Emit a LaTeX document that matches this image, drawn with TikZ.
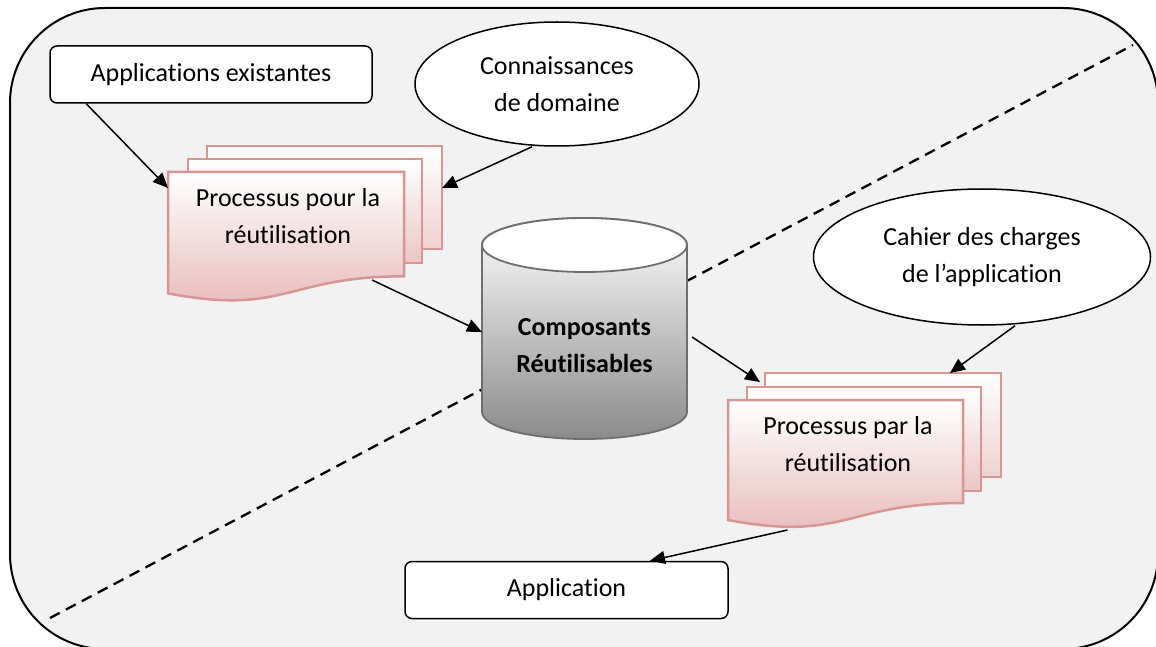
\documentclass[tikz,border=0pt]{standalone}
\usepackage{fontspec}
\setmainfont{Carlito}[Ligatures=NoCommon]
\usetikzlibrary{arrows.meta,shapes.geometric,calc}
\definecolor{bgc}{RGB}{242,242,242}
\definecolor{pinkb}{RGB}{217,149,148}
\definecolor{pinkf}{RGB}{229,184,183}
\definecolor{cylb}{RGB}{110,110,110}
\definecolor{cylf}{RGB}{138,138,138}
\newcommand\myfs{\fontsize{26}{37}\selectfont}
\begin{document}
\begin{tikzpicture}[x=1pt,y=-1pt,
  box/.style={draw, line width=1.5pt, fill=white, rounded corners=7pt, minimum width=#1, minimum height=57pt, inner sep=0pt, font=\myfs},
  ell/.style={ellipse, draw, line width=1.5pt, fill=white, inner sep=0pt, font=\myfs, align=center},
  lbl/.style={font=\myfs, align=center, inner sep=0pt},
  arr/.style={line width=1.5pt, -{Triangle[length=15pt,width=13pt]}},
  docline/.style={draw=pinkb, line width=2.5pt},
  frame/.style={inner sep=0pt, outer sep=0pt}
]
\useasboundingbox (0,0) rectangle (1156,647);
\fill[white] (0,0) rectangle (1156,647);
% outer frame
\draw[line width=2pt, fill=bgc, rounded corners=95pt] (10,8) rectangle (1158,649);
% dashed divider
\coordinate (d1) at (50,618);
\coordinate (d2) at (1133,45);
\draw[line width=2.3pt, dash pattern=on 11pt off 7pt] (d1) -- (d2);

% boxes
\node[box=322pt] (appex) at (211,74.5) {Applications existantes};
\node[box=323pt] (app) at (566.5,590) {Application};

% ellipses
\node[ell, minimum width=284pt, minimum height=124pt] (ell1) at (557,84) {Connaissances\\de domaine};
\node[ell, minimum width=337pt, minimum height=136pt] (ell2) at (982,257) {Cahier des charges\\de l’application};

% document stack 1
\path[docline, top color=white, bottom color=pinkf!65!white] (207,146) rectangle (442,249);
\path[docline, top color=white, bottom color=pinkf!80!white] (188,159) rectangle (422,263);
\path[docline, top color=white, bottom color=pinkf] (168,172) -- (404,172) -- (404,276.3)
   .. controls (286,276.3) and (286,315.9) .. (168,293.4) -- cycle;
\node[frame, minimum width=235pt, minimum height=103pt] (doc1c) at (324.5,197.5) {};
\node[frame, minimum width=236pt, minimum height=130pt] (doc1) at (286,237) {};
\node[lbl] (t1) at (288,216) {Processus pour la\\réutilisation};

% document stack 2
\path[docline, top color=white, bottom color=pinkf!65!white] (765,373) rectangle (1001,477);
\path[docline, top color=white, bottom color=pinkf!80!white] (747,387) rectangle (981,491);
\path[docline, top color=white, bottom color=pinkf] (728,400) -- (963,400) -- (963,503)
   .. controls (845.5,503) and (845.5,542.2) .. (728,520) -- cycle;
\node[frame, minimum width=236pt, minimum height=104pt] (doc2c) at (883,425) {};
\node[frame, minimum width=235pt, minimum height=130pt] (doc2) at (845.5,465) {};
\node[lbl] (t2) at (848,444) {Processus par la\\réutilisation};

% cylinder
\path[draw=cylb, line width=1.8pt, top color=white, bottom color=cylf]
  (482,245) -- (482,412) arc[start angle=180, end angle=360, x radius=102.5pt, y radius=27pt]
  -- (687,245) arc[start angle=0, end angle=180, x radius=102.5pt, y radius=27pt] -- cycle;
\draw[draw=cylb, line width=1.8pt, fill=white] (584.5,245) ellipse [x radius=102.5pt, y radius=27pt];
\node[frame, minimum width=205pt, minimum height=221pt] (cyl) at (584.5,328.5) {};
\node[lbl, font=\myfs\bfseries] (ct) at (584.5,345.5) {Composants\\Réutilisables};

% arrows
\draw[arr] ([xshift=37pt]appex.south west) -- ([yshift=-16pt]doc1.north west);
\draw[arr] ([xshift=-25pt]ell1.south) -- ([yshift=-42pt]doc1c.north east);
\draw[arr] ([xshift=-32pt,yshift=22pt]doc1.south east) -- ([yshift=-3.5pt]cyl.west);
\draw[arr] ([xshift=5pt,yshift=-8.5pt]cyl.east) -- ([xshift=-5pt,yshift=-9pt]doc2c.north west);
\draw[arr] ([xshift=33pt]ell2.south) -- ([xshift=-51pt]doc2c.north east);
\draw[arr] ([xshift=-58pt]doc2.south) -- ([xshift=83.5pt]app.north);
\end{tikzpicture}
\end{document}
